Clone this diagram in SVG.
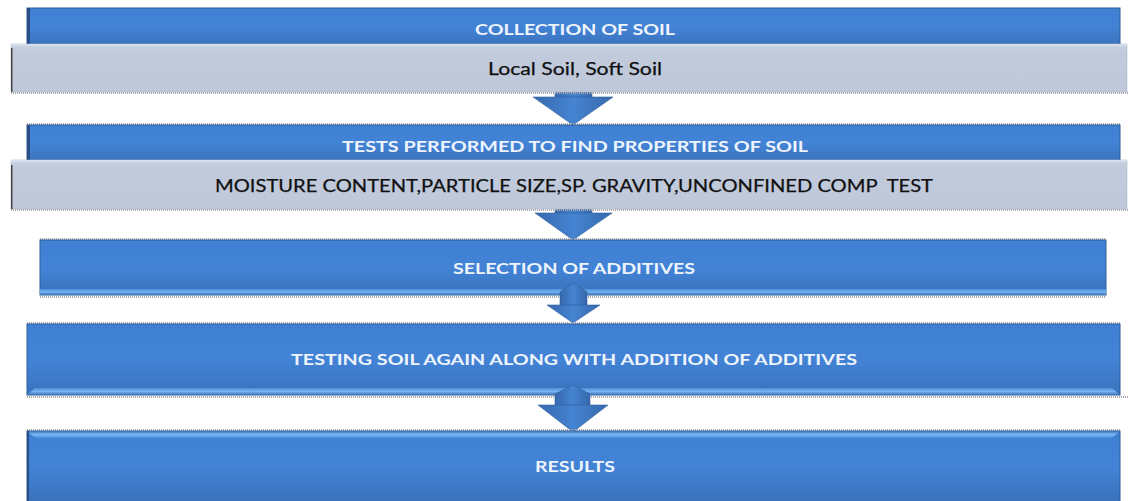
<svg xmlns="http://www.w3.org/2000/svg" width="1129" height="501" viewBox="0 0 1129 501">
<defs>
<linearGradient id="gBlue" x1="0" y1="0" x2="0" y2="1">
<stop offset="0" stop-color="#3F80D4"/>
<stop offset="0.5" stop-color="#4283D6"/>
<stop offset="1" stop-color="#3A72BC"/>
</linearGradient>
<linearGradient id="gGrey" x1="0" y1="0" x2="0" y2="1">
<stop offset="0" stop-color="#C9D3E3"/>
<stop offset="0.15" stop-color="#C2CBDC"/>
<stop offset="1" stop-color="#BEC8DA"/>
</linearGradient>
<linearGradient id="gArrow" x1="0" y1="0" x2="1" y2="0">
<stop offset="0" stop-color="#3768AC"/>
<stop offset="0.5" stop-color="#4584D2"/>
<stop offset="1" stop-color="#3668AA"/>
</linearGradient>
<linearGradient id="gBevelB" x1="0" y1="0" x2="0" y2="1">
<stop offset="0" stop-color="#4C8EDC"/>
<stop offset="0.5" stop-color="#74B4F4"/>
<stop offset="1" stop-color="#3D6FB2"/>
</linearGradient>
<linearGradient id="gBevelT" x1="0" y1="0" x2="0" y2="1">
<stop offset="0" stop-color="#3D6FB2"/>
<stop offset="0.5" stop-color="#78B8F6"/>
<stop offset="1" stop-color="#4C8EDC"/>
</linearGradient>
</defs>
<style>
.blue{fill:url(#gBlue);stroke:#2E5C98;stroke-width:1}
.grey{fill:url(#gGrey);stroke:#AEB8CA;stroke-width:0.6}
.arrow{fill:url(#gArrow);stroke:#2F5F9E;stroke-width:0.6}
.dots{stroke:#A8A8A8;stroke-width:2;stroke-dasharray:1 1;fill:none}
.tw{font-family:Lato,"Open Sans","Liberation Sans",sans-serif;font-weight:bold;font-size:15px;fill:#EEF4FC;text-anchor:middle}
.tb{font-family:Lato,"Open Sans","Liberation Sans",sans-serif;font-size:17px;fill:#111;text-anchor:middle;stroke:#111;stroke-width:0.25}
</style>
<rect width="1129" height="501" fill="#FFFFFF"/>
<g id="connectors">
<g id="arrow1">
<rect class="arrow" x="555" y="88" width="37" height="10"/>
<polygon class="arrow" points="533,97 613,97 573,125"/>
</g>
<g id="arrow2">
<rect class="arrow" x="555" y="205" width="37" height="9"/>
<polygon class="arrow" points="535,213 612,213 573,240"/>
</g>
</g>
<g id="node1">
<rect class="blue" x="27" y="8" width="1093" height="38"/>
<rect x="27" y="8" width="3" height="38" fill="#2A4F86"/>
<text class="tw" x="575" y="35" textLength="200" lengthAdjust="spacingAndGlyphs">COLLECTION OF SOIL</text>
</g>
<g id="node1b">
<rect class="grey" x="11" y="44" width="1116" height="48"/>
<rect x="11" y="44" width="1116" height="2" fill="#D6DEEC"/>
<rect x="11" y="48" width="1.5" height="44" fill="#444"/>
<line class="dots" x1="11" y1="93" x2="1129" y2="93"/>
<text class="tb" x="575" y="75" textLength="174" lengthAdjust="spacingAndGlyphs">Local Soil, Soft Soil</text>
</g>
<g id="node2">
<line class="dots" x1="27" y1="124" x2="1120" y2="124"/>
<rect class="blue" x="27" y="125" width="1093" height="37"/>
<rect x="27" y="125" width="3" height="37" fill="#2A4F86"/>
<text class="tw" x="575" y="152" textLength="466" lengthAdjust="spacingAndGlyphs">TESTS PERFORMED TO FIND PROPERTIES OF SOIL</text>
</g>
<g id="node2b">
<rect class="grey" x="11" y="160" width="1116" height="49"/>
<rect x="11" y="160" width="1116" height="2" fill="#D6DEEC"/>
<rect x="11" y="165" width="1.5" height="44" fill="#444"/>
<line class="dots" x1="11" y1="210" x2="1129" y2="210"/>
<text class="tb" x="574" y="192" textLength="718" lengthAdjust="spacingAndGlyphs">MOISTURE CONTENT,PARTICLE SIZE,SP. GRAVITY,UNCONFINED COMP&#160; TEST</text>
</g>
<g id="node3">
<line class="dots" x1="40" y1="239" x2="1106" y2="239"/>
<rect class="blue" x="40" y="240" width="1066" height="55"/>
<rect x="40" y="289" width="1066" height="6" fill="url(#gBevelB)"/>
<line class="dots" x1="40" y1="297" x2="1106" y2="297"/>
<text class="tw" x="574" y="274" textLength="242" lengthAdjust="spacingAndGlyphs">SELECTION OF ADDITIVES</text>
</g>
<g id="arrow3g">
<polygon class="arrow" points="560,292 573,283 587,292 587,306 560,306"/>
<polygon class="arrow" points="547,305 600,305 573,323"/>
</g>
<g id="node4">
<line class="dots" x1="27" y1="323" x2="1120" y2="323"/>
<rect class="blue" x="27" y="324" width="1093" height="71"/>
<polygon points="27,395 1120,395 1112,388 35,388" fill="url(#gBevelB)"/>
<line class="dots" x1="27" y1="397" x2="1129" y2="397"/>
<text class="tw" x="574" y="365" textLength="566" lengthAdjust="spacingAndGlyphs">TESTING SOIL AGAIN ALONG WITH ADDITION OF ADDITIVES</text>
</g>
<g id="arrow4g">
<polygon class="arrow" points="555,394 573,385 590,394 590,406 555,406"/>
<polygon class="arrow" points="538,405 608,405 573,432"/>
</g>
<g id="node5">
<line class="dots" x1="27" y1="430" x2="1120" y2="430"/>
<rect class="blue" x="27" y="431" width="1093" height="71"/>
<polygon points="27,431 1120,431 1112,438 35,438" fill="url(#gBevelT)"/>
<rect x="27" y="431" width="2" height="70" fill="#2A4F86"/>
<text class="tw" x="575" y="472" textLength="80" lengthAdjust="spacingAndGlyphs">RESULTS</text>
</g>
</svg>
